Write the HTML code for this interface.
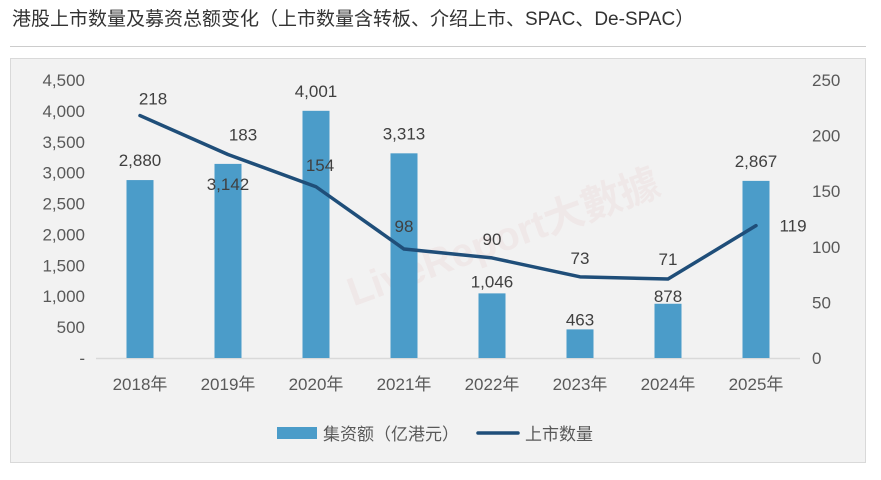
<!DOCTYPE html>
<html><head><meta charset="utf-8"><style>
body{margin:0;width:881px;height:480px;background:#fff;font-family:"Liberation Sans","Noto Sans CJK SC",sans-serif;overflow:hidden;position:relative}
#title{position:absolute;left:12px;top:4px;font-size:19px;color:#333;white-space:nowrap}
#rule{position:absolute;left:10px;top:46px;width:856px;height:1px;background:#ccc}
#box{position:absolute;left:10px;top:58px;width:856px;height:405px;background:#f2f2f2;border:1px solid #d9d9d9;box-sizing:border-box}
svg{position:absolute;left:0;top:0}
text{font-family:"Liberation Sans","Noto Sans CJK SC",sans-serif}
</style></head><body>
<div id="title">港股上市数量及募资总额变化（上市数量含转板、介绍上市、SPAC、De-SPAC）</div>
<div id="rule"></div>
<div id="box"></div>
<svg id="chart" width="881" height="480"></svg>
<script>
const categories=["2018年","2019年","2020年","2021年","2022年","2023年","2024年","2025年"];
const amounts=[2880,3142,4001,3313,1046,463,878,2867];
const counts=[218,183,154,98,90,73,71,119];
const leftTicks=[0,500,1000,1500,2000,2500,3000,3500,4000,4500];
const rightTicks=[0,50,100,150,200,250];
const NS="http://www.w3.org/2000/svg";
const svg=document.getElementById('chart');
const y0=358,yTop=80,x0=96,step=88;
const yL=v=>y0-(v/4500)*(y0-yTop);
const yR=v=>y0-(v/250)*(y0-yTop);
const xC=i=>x0+step*(i+0.5);
function el(t,a,txt){const e=document.createElementNS(NS,t);for(const k in a)e.setAttribute(k,a[k]);if(txt!==undefined)e.textContent=txt;svg.appendChild(e);return e;}
const wm=el('text',{x:340,y:270,'font-size':40,'font-weight':'bold',fill:'#ecd6d6','fill-opacity':0.35,transform:'rotate(-20 450 250)'},'LiveReport大數據');

leftTicks.forEach(v=>{const t=el('text',{x:85,y:yL(v)+6,'text-anchor':'end','font-size':17,fill:'#595959'},v===0?'-':v.toLocaleString('en-US'));
});
rightTicks.forEach(v=>{const t=el('text',{x:812,y:yR(v)+6,'font-size':17,fill:'#595959'},String(v));
});
const ax=el('line',{x1:x0,x2:x0+step*8,y1:y0+0.5,y2:y0+0.5,stroke:'#d9d9d9','stroke-width':1.5});

const barLabOff=[-14,26,-14,-14,-6,-4,-2,-14];
categories.forEach((c,i)=>{
 const top=yL(amounts[i]);
 const b=el('rect',{x:xC(i)-13.5,y:top,width:27,height:y0-top,fill:'#4b9cc9'});
 
 const l=el('text',{x:xC(i),y:top+barLabOff[i],'text-anchor':'middle','font-size':17,fill:'#404040'},amounts[i].toLocaleString('en-US'));
 
 const xl=el('text',{x:xC(i),y:390,'text-anchor':'middle','font-size':17,fill:'#595959'},c);
 
});
const pts=counts.map((v,i)=>xC(i)+','+yR(v)).join(' ');
const ln=el('polyline',{points:pts,fill:'none',stroke:'#1f4e79','stroke-width':3.5,'stroke-linejoin':'round','stroke-linecap':'round'});

const ldx=[13,15,4,0,0,0,0,37],ldy=[-11,-14,-16,-17,-13,-13,-14,6];
counts.forEach((v,i)=>{const t=el('text',{x:xC(i)+ldx[i],y:yR(v)+ldy[i],'text-anchor':'middle','font-size':17,fill:'#404040'},String(v));
});
const lr=el('rect',{x:277,y:427,width:40,height:12,fill:'#4b9cc9'});

const lt=el('text',{x:323,y:440,'font-size':17,fill:'#595959'},'集资额（亿港元）');

const ll=el('line',{x1:478,x2:518,y1:433,y2:433,stroke:'#1f4e79','stroke-width':3.5,'stroke-linecap':'round'});

const lt2=el('text',{x:525,y:440,'font-size':17,fill:'#595959'},'上市数量');

</script>
</body></html>
